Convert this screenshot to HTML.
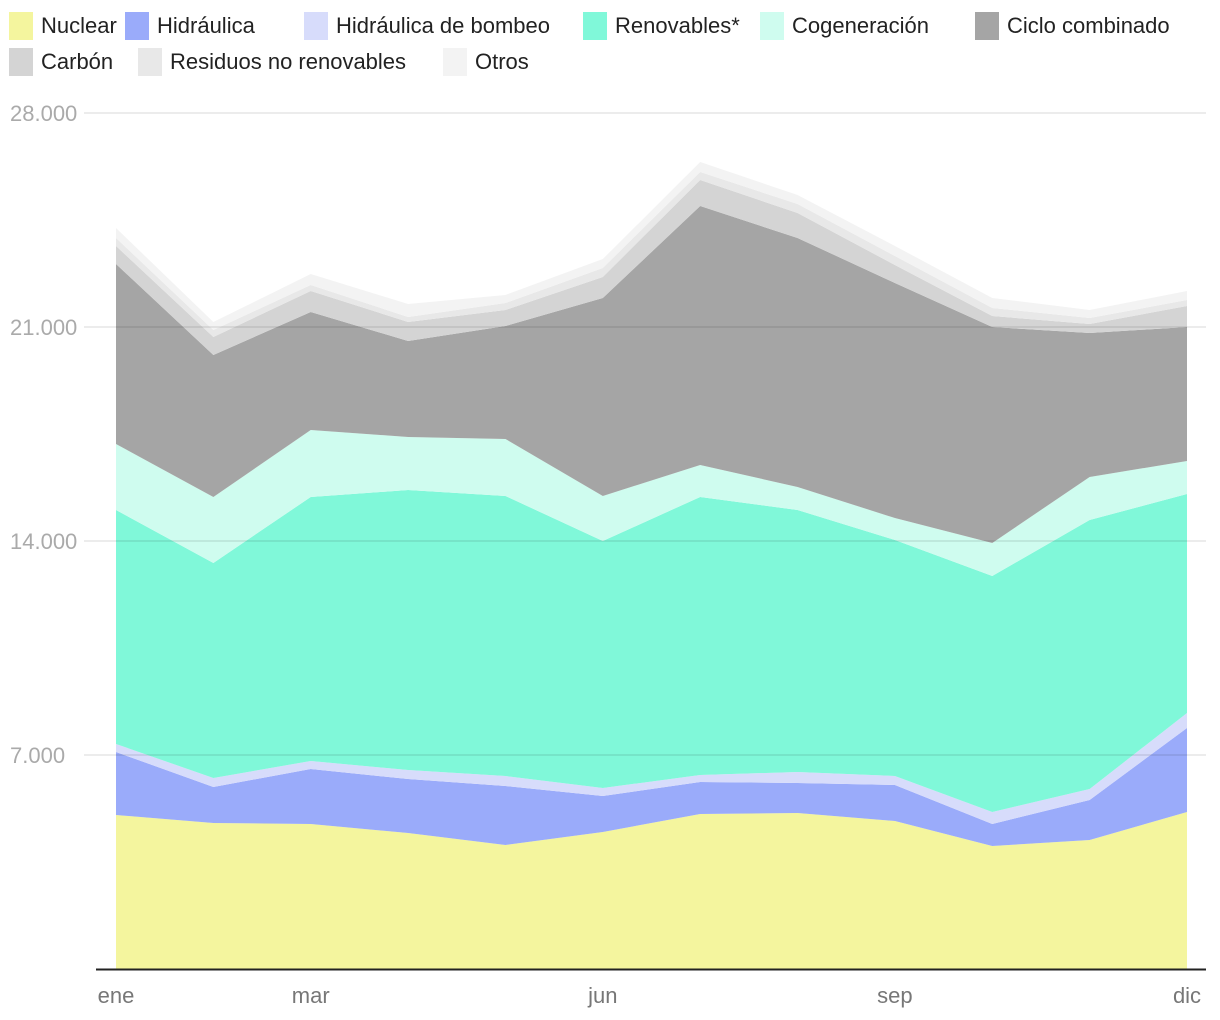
<!DOCTYPE html>
<html><head><meta charset="utf-8"><style>
body{margin:0;background:#fff;width:1220px;height:1020px;overflow:hidden;font-family:"Liberation Sans",sans-serif}
.lg{position:absolute;height:28px;display:flex;align-items:center;font-size:22px;color:#222}
.sw{width:24px;height:28px;margin-right:8px}
svg{position:absolute;left:0;top:0}
</style></head><body>
<div id="legend"></div>
<svg id="chart" width="1220" height="1020"></svg>
<script>
const months=["ene","feb","mar","abr","may","jun","jul","ago","sep","oct","nov","dic"];
const tickMonths=["ene","mar","jun","sep","dic"];
const yTicks=[7000,14000,21000,28000];
const yTickLabels=["7.000","14.000","21.000","28.000"];
const seriesNames=["Nuclear","Hidráulica","Hidráulica de bombeo","Renovables*","Cogeneración","Ciclo combinado","Carbón","Residuos no renovables","Otros"];
const colors=["#f4f59e","#9aabfa","#d7dcfb","#80f8d9","#cffcef","#a5a5a5","#d4d4d4","#e8e8e8","#f3f3f3"];
const nuclear=[5037,4776,4743,4449,4056,4481,5070,5103,4841,4023,4220,5135];
const hidraulica=[2061,1177,1799,1766,1930,1178,1047,981,1178,720,1308,2748];
const bombeo=[262,295,262,294,327,262,229,360,294,392,360,491];
const renovables=[7654,7033,8636,9159,9159,8079,9094,8570,7720,7720,8799,7163];
const cogeneracion=[2159,2159,2191,1734,1865,1472,1046,753,719,1080,1407,1080];
const cicloCombinado=[5888,4645,3860,3140,3696,6477,8472,8144,7688,7065,4710,4383];
const carbon=[589,588,687,622,523,687,850,818,588,360,294,687];
const residuos=[261,229,196,163,229,294,262,294,294,262,196,196];
const otros=[327,262,360,425,262,294,327,294,328,327,262,295];
const series=[nuclear,hidraulica,bombeo,renovables,cogeneracion,cicloCombinado,carbon,residuos,otros];

const NS="http://www.w3.org/2000/svg";
const svg=document.getElementById("chart");
const x=i=>116+i*(1187-116)/(months.length-1);
const y=v=>969-v*(969-113)/28000;
function mk(t,a){const e=document.createElementNS(NS,t);for(const k in a)e.setAttribute(k,a[k]);svg.appendChild(e);return e;}

// legend
const legPos=[[9,12],[125,12],[304,12],[583,12],[760,12],[975,12],[9,48],[138,48],[443,48]];
const leg=document.getElementById("legend");
seriesNames.forEach((n,s)=>{
  const d=document.createElement("div");d.className="lg";
  
  
  d.style.left=legPos[s][0]+"px";d.style.top=legPos[s][1]+"px";
  d.innerHTML='<span class="sw" style="background:'+colors[s]+'"></span><span>'+n+'</span>';
  leg.appendChild(d);
});

// areas
let base=months.map(()=>0);
series.forEach((vals,s)=>{
  const top=base.map((b,i)=>b+vals[i]);
  let pts=top.map((v,i)=>x(i)+","+y(v));
  let bot=base.map((v,i)=>x(i)+","+y(v)).reverse();
  const p=mk("polygon",{points:pts.concat(bot).join(" "),fill:colors[s]});
  
  
  base=top;
});

// grid + y labels
yTicks.forEach((t,i)=>{
  const l=mk("line",{x1:84,x2:1206,y1:y(t),y2:y(t),stroke:"rgba(0,0,0,0.1)","stroke-width":1.5});
  
  
  const tx=mk("text",{x:10,y:y(t)+8,"font-size":22,fill:"#aaa","font-family":"Liberation Sans, sans-serif"});
  tx.textContent=yTickLabels[i];
  
  
});
const ax=mk("line",{x1:96,x2:1206,y1:969.5,y2:969.5,stroke:"#222","stroke-width":2});


tickMonths.forEach(m=>{
  const i=months.indexOf(m);
  const tx=mk("text",{x:x(i),y:1003,"font-size":22,fill:"#777","text-anchor":"middle","font-family":"Liberation Sans, sans-serif"});
  tx.textContent=m;
  
  
});
</script>
</body></html>
